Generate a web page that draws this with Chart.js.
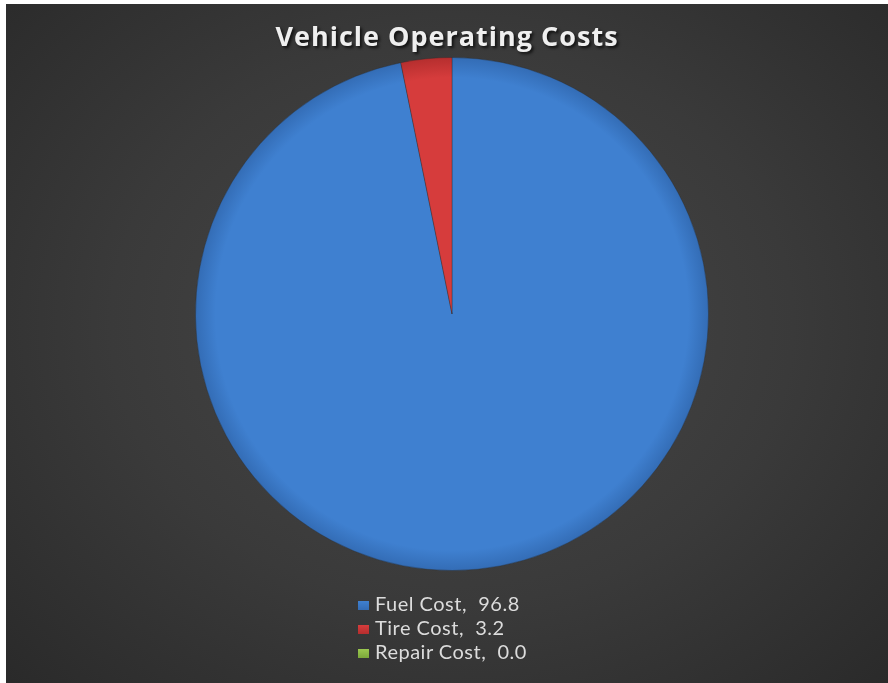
<!DOCTYPE html>
<html>
<head>
<meta charset="utf-8">
<script src="https://cdn.jsdelivr.net/npm/chart.js@4.4.1/dist/chart.umd.min.js"></script>
<style>
  html, body { margin: 0; padding: 0; background: #fff; overflow: hidden; }
  #frame {
    position: fixed; left: 6px; top: 4px; right: -20px; bottom: -20px;
    background: radial-gradient(ellipse 620px 510px at 446px 320px, #484848 0%, #3a3a3a 55%, #2a2a2a 100%);
    overflow: hidden;
  }
  #title {
    position: absolute; left: 0; top: 13px; width: 882px; text-align: center;
    font: bold 27px "Open Sans", Lato, sans-serif; color: #efefef;
    letter-spacing: 1px;
    text-shadow: 2px 2px 3px rgba(0,0,0,0.7);
  }
  #legend {
    position: absolute; left: 352px; top: 587px;
    font: 20px Lato, "Open Sans", sans-serif; color: #dcdcdc; letter-spacing: 0.5px;
  }
  #legend div { height: 24px; line-height: 24px; white-space: pre; }
  #legend span.box {
    display: inline-block; width: 11px; height: 9px; margin-right: 6px; vertical-align: 1px;
  }
  canvas { position: absolute; left: 0; top: 0; }
</style>
</head>
<body>
<div id="frame">
  <canvas id="pie" width="882" height="679"></canvas>
  <div id="title">Vehicle Operating Costs</div>
  <div id="legend"></div>
</div>
<script>
// cost share by category (percent)
const categories = ["Fuel Cost", "Tire Cost", "Repair Cost"];
const shares = [96.8, 3.2, 0.0];
const shareLabels = ["96.8", "3.2", "0.0"];

// inner / outer shades per slice
const lightColors = ["#3f80d0", "#d63c3c", "#9bc850"];
const darkColors = ["#336cb5", "#b52e2e", "#7ca83a"];

function sliceFill(ctx) {
  const chart = ctx.chart;
  const area = chart.chartArea;
  if (!area) return lightColors[ctx.dataIndex];
  const cx = (area.left + area.right) / 2;
  const cy = (area.top + area.bottom) / 2;
  const r = Math.min(area.right - area.left, area.bottom - area.top) / 2;
  const g = chart.ctx.createRadialGradient(cx, cy, 0, cx, cy, r);
  g.addColorStop(0, lightColors[ctx.dataIndex]);
  g.addColorStop(0.92, lightColors[ctx.dataIndex]);
  g.addColorStop(1, darkColors[ctx.dataIndex]);
  return g;
}

new Chart(document.getElementById("pie"), {
  type: "pie",
  data: {
    labels: categories,
    datasets: [{
      data: shares,
      backgroundColor: sliceFill,
      borderColor: "rgba(40,40,40,0.35)",
      borderWidth: 1
    }]
  },
  options: {
    responsive: false,
    animation: false,
    layout: { padding: { top: 53, bottom: 112, left: 10, right: 0 } },
    plugins: {
      legend: { display: false },
      tooltip: { enabled: false }
    }
  }
});

// legend rows: swatch + "name,  value"
const legendEl = document.getElementById("legend");
categories.forEach((name, i) => {
  const row = document.createElement("div");
  const box = document.createElement("span");
  box.className = "box";
  box.style.background = "linear-gradient(" + lightColors[i] + ", " + darkColors[i] + ")";
  row.appendChild(box);
  row.appendChild(document.createTextNode(name + ",  " + shareLabels[i]));
  legendEl.appendChild(row);
});
</script>
</body>
</html>
